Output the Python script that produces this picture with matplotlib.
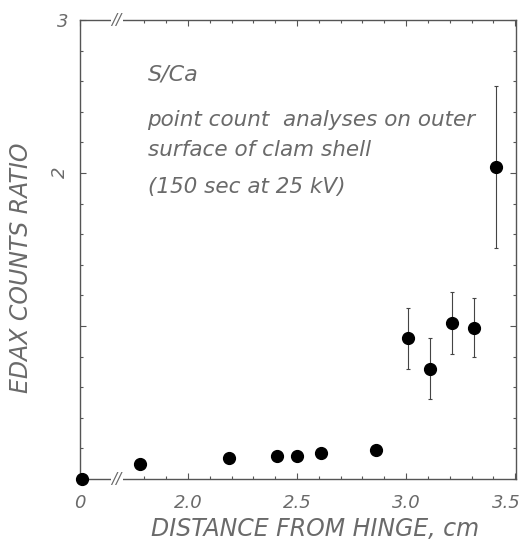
import numpy as np
import matplotlib
matplotlib.use("Agg")
import matplotlib.pyplot as plt
import matplotlib.transforms as mtransforms
from matplotlib.ticker import MultipleLocator, FixedLocator

# dados (distancia em cm, razao S/Ca)
distancia = [0.0, 1.78, 2.19, 2.41, 2.50, 2.61, 2.86, 3.01, 3.11, 3.21, 3.31, 3.41]
razao = [0.0, 0.10, 0.14, 0.15, 0.15, 0.17, 0.19, 0.92, 0.72, 1.02, 0.99, 2.04]
erro = [0, 0, 0, 0, 0, 0, 0, 0.20, 0.20, 0.20, 0.19, 0.53]

xticks = [1.505, 2.0, 2.5, 3.0, 3.5]
xticklabels = ["0", "2.0", "2.5", "3.0", "3.5"]

cinza = "#6a6a6a"
fonte = dict(family="DejaVu Sans", style="italic", color=cinza, fontweight="light")

# eixo quebrado: a distancia 0 fica colada na borda esquerda
x0 = 1.515
xpos = [x0 if d == 0 else d for d in distancia]

fig = plt.figure(figsize=(5.22, 5.49), dpi=100)
ax = fig.add_axes([0.153, 0.1275, 0.836, 0.836])

ax.errorbar(xpos, razao, yerr=erro, fmt="o", color="black", ms=8.5,
            elinewidth=0.8, ecolor="#444444", capsize=1.5, capthick=0.8,
            clip_on=False, zorder=3)

ax.set_xlim(1.505, 3.505)
ax.set_ylim(0, 3)

ax.xaxis.set_major_locator(FixedLocator(xticks))
ax.set_xticklabels(xticklabels, fontsize=13, **fonte)
ax.xaxis.set_minor_locator(FixedLocator(np.arange(1.8, 3.45, 0.1)))
ax.yaxis.set_major_locator(FixedLocator([1, 2, 3]))
ax.set_yticklabels(["", "2", "3"], fontsize=13, **fonte)
ax.get_yticklabels()[1].set_rotation(90)
ax.yaxis.set_minor_locator(MultipleLocator(0.2))

ax.tick_params(which="both", direction="in", top=True, right=True,
               color="#555555", width=0.8)
ax.tick_params(which="major", length=4, pad=8)
ax.tick_params(axis="x", which="major", pad=11)
ax.tick_params(which="minor", length=2)
for s in ax.spines.values():
    s.set_color("#555555")
    s.set_linewidth(1.0)

# o rotulo 3.5 fica um pouco para a esquerda, como no original
lab = ax.get_xticklabels()[-1]
lab.set_transform(lab.get_transform() +
                  mtransforms.ScaledTranslation(-9 / 100, 0, fig.dpi_scale_trans))

# marcas de quebra do eixo x
for yb in (0, 3):
    ax.text(1.674, yb, "//", ha="center", va="center", fontsize=11,
            transform=ax.transData, clip_on=False, zorder=4,
            bbox=dict(facecolor="white", edgecolor="none", pad=0.5), **fonte)

ax.set_xlabel("DISTANCE FROM HINGE, cm", fontsize=17, **fonte)
ax.xaxis.set_label_coords(0.54, -0.083)
ax.set_ylabel("EDAX COUNTS RATIO", fontsize=17, **fonte)
ax.yaxis.set_label_coords(-0.108, 0.46)

ax.text(0.155, 0.882, "S/Ca", transform=ax.transAxes, fontsize=16,
        va="center", **fonte)
ax.text(0.155, 0.782, "point count  analyses on outer", transform=ax.transAxes,
        fontsize=15.5, va="center", **fonte)
ax.text(0.155, 0.717, "surface of clam shell", transform=ax.transAxes,
        fontsize=15.5, va="center", **fonte)
ax.text(0.155, 0.636, "(150 sec at 25 kV)", transform=ax.transAxes,
        fontsize=15.5, va="center", **fonte)

fig.savefig("out.png", dpi=100)
